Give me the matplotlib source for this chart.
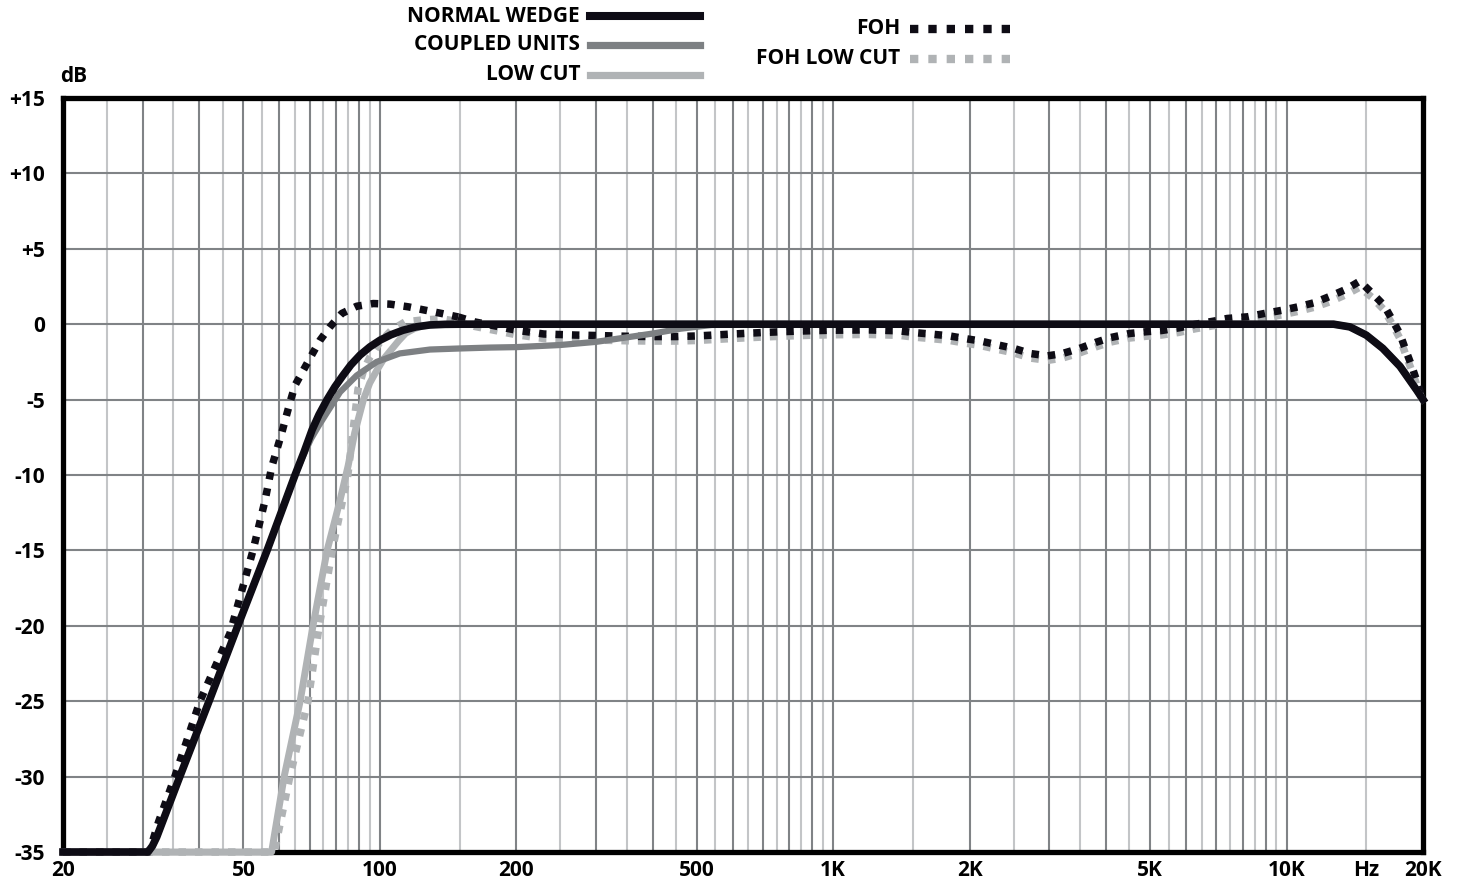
import matplotlib.pyplot as plt
from matplotlib.lines import Line2D

plt.rcParams['font.family'] = ['Open Sans', 'DejaVu Sans']
plt.rcParams['font.weight'] = 'bold'

# --- data (Hz, dB) ---
wedge_f = [20, 30.8, 31.5, 32.2, 36.2, 42, 48.6, 56.4, 65.0, 68.0, 70.9, 73.4,
           76.5, 79.6, 82.9, 86.3, 90.4, 95.1, 100.1, 105.8, 112.5, 120.1, 129,
           139.2, 150, 1000, 10000, 12700, 13800, 15000, 16300, 17800, 19400, 20000]
wedge_db = [-35, -35, -34.6, -34, -30, -25, -20, -15, -10, -8.5, -7.0, -6.0,
            -5.0, -4.15, -3.4, -2.7, -2.05, -1.5, -1.06, -0.7, -0.4, -0.18, -0.05,
            -0.01, 0, 0, 0, 0, -0.18, -0.73, -1.6, -2.8, -4.4, -5.0]

coupled_f = [20, 30.8, 31.5, 32.2, 36.2, 42, 48.6, 56.4, 65.0, 67.8, 70.5, 73.4,
             76.3, 81.7, 88.9, 98.4, 110.6, 129, 150, 175, 200, 250, 300, 400,
             460, 540, 700, 1000, 10000, 12700, 13800, 15000, 16300, 17800, 19400,
             20000]
coupled_db = [-35, -35, -34.6, -34, -30, -25, -20, -15, -10, -8.7, -7.6, -6.7,
              -5.9, -4.5, -3.4, -2.5, -1.94, -1.68, -1.61, -1.55, -1.52, -1.38,
              -1.17, -0.62, -0.3, -0.05, 0, 0, 0, 0, -0.18, -0.73, -1.6, -2.8,
              -4.4, -5.0]

lowcut_f = [20, 57.7, 61.5, 66.7, 71.2, 76.5, 81.5, 85.1, 88, 92, 95, 98.5,
            102, 105.7, 110, 114, 119, 124, 132, 145, 1000, 10000, 12700, 13800,
            15000, 16300, 17800, 19400, 20000]
lowcut_db = [-35, -35, -30, -25, -20, -15, -11.8, -9.4, -7.2, -5, -3.9, -3.05,
             -2.3, -1.73, -1.1, -0.6, -0.3, -0.12, -0.03, 0, 0, 0, 0, -0.18,
             -0.73, -1.6, -2.8, -4.4, -5.0]

foh_f = [20, 31, 32.5, 35.3, 40.1, 46.7, 52.5, 55.8, 57.7, 60.7, 63.4, 65.0,
         67.8, 70.7, 73.8, 77.6, 82.4, 88.9, 96.7, 105.3, 115.6, 125.8, 136.9,
         148.9, 162, 176.5, 200, 230, 270, 300, 350, 400, 450, 500, 600, 700,
         800, 900, 1000, 1200, 1400, 1500, 1650, 1800, 1950, 2100, 2330, 2500,
         2730, 2970, 3200, 3500, 3800, 4100, 4500, 4900, 5300, 5800, 6300,
         6900, 7400, 8200, 8900, 9800, 10600, 11500, 12500, 13500, 14500,
         15400, 16400, 17100, 17800, 18300, 18900, 20000]
foh_db = [-35, -35, -33, -30, -25, -20.5, -15, -11.7, -9.5, -7.25, -5.15, -4.05,
          -3.05, -2.06, -1.06, -0.18, 0.71, 1.19, 1.37, 1.33, 1.15, 0.93, 0.71,
          0.48, 0.15, -0.07, -0.4, -0.65, -0.72, -0.75, -0.8, -0.82, -0.82,
          -0.78, -0.65, -0.55, -0.48, -0.43, -0.4, -0.38, -0.44, -0.55, -0.66,
          -0.77, -0.95, -1.1, -1.4, -1.6, -1.95, -2.1, -1.95, -1.6, -1.2, -0.88,
          -0.62, -0.5, -0.42, -0.24, 0, 0.2, 0.38, 0.49, 0.7, 0.93, 1.15, 1.42,
          1.86, 2.3, 2.85, 2.1, 1.26, 0.31, -0.66, -1.68, -2.8, -5.0]

fohlc_f = [20, 58.5, 63.3, 69.4, 73.5, 78.5, 85, 87.3, 89.5, 92, 95, 100, 106,
           113.6, 124, 136.9, 148.9, 162, 176.5, 200, 230, 270, 300, 350, 400,
           450, 500, 600, 700, 800, 900, 1000, 1200, 1400, 1500, 1650, 1800,
           1950, 2100, 2330, 2500, 2730, 2970, 3200, 3500, 3800, 4100, 4500,
           4900, 5300, 5800, 6300, 6900, 7400, 8200, 8900, 9800, 10600, 11500,
           12500, 13500, 14500, 15400, 16400, 17100, 17800, 18300, 18900, 20000]
fohlc_db = [-35, -35, -30, -25, -20, -15, -10, -7, -4.3, -3.1, -2.2, -1.2, -0.4,
            0.15, 0.28, 0.35, 0.18, -0.15, -0.37, -0.7, -0.95, -1.02, -1.05,
            -1.1, -1.12, -1.12, -1.08, -0.95, -0.85, -0.78, -0.73, -0.7, -0.68,
            -0.74, -0.85, -0.96, -1.07, -1.25, -1.4, -1.7, -1.9, -2.25, -2.4,
            -2.25, -1.9, -1.5, -1.18, -0.92, -0.8, -0.72, -0.54, -0.3, -0.1,
            0.08, 0.19, 0.4, 0.63, 0.85, 1.12, 1.5, 1.95, 2.45, 1.8, 0.96, 0.01,
            -0.96, -1.98, -3.1, -5.2]

xtick_vals = [20, 50, 100, 200, 500, 1000, 2000, 5000, 10000, 15000, 20000]
xtick_labels = ['20', '50', '100', '200', '500', '1K', '2K', '5K', '10K', 'Hz', '20K']
ytick_vals = [15, 10, 5, 0, -5, -10, -15, -20, -25, -30, -35]
ytick_labels = ['+15', '+10', '+5', '0', '-5', '-10', '-15', '-20', '-25', '-30', '-35']

BLACK = '#0e0c15'
DARK = '#7d8083'
LIGHT = '#b0b3b5'
FS = 15

fig = plt.figure(figsize=(14.64, 8.81), dpi=100)
ax = fig.add_axes([0.04303, 0.03292, 0.92896, 0.85585])
ax.set_xscale('log')
ax.set_xlim(20, 20000)
ax.set_ylim(-35, 15)

# grid: dark on integer multiples, light on the half steps
for dec in [10, 100, 1000, 10000]:
    for m in range(1, 10):
        for v, col in [(m * dec, '#808386'), ((m + 0.5) * dec, '#c3c5c7')]:
            if 20 < v < 20000:
                ax.axvline(v, color=col, lw=1.5, zorder=1)
for v in range(-30, 15, 5):
    ax.axhline(v, color='#808386', lw=1.5, zorder=1)

dot = dict(lw=5.4, dashes=(1.0, 1.2), dash_capstyle='butt', solid_capstyle='butt')
k = fohlc_f.index(148.9)
j = foh_f.index(148.9)
ax.plot(fohlc_f[:k + 1], fohlc_db[:k + 1], color=LIGHT, zorder=3, clip_on=False, **dot)
ax.plot(fohlc_f[k:], fohlc_db[k:], color=LIGHT, zorder=3, clip_on=False, **dot)
ax.plot(foh_f[:j + 1], foh_db[:j + 1], color=BLACK, zorder=4, clip_on=False, **dot)
ax.plot(foh_f[j:], foh_db[j:], color=BLACK, zorder=4, clip_on=False, **dot)
ax.plot(lowcut_f, lowcut_db, color=LIGHT, lw=5.0, zorder=5, clip_on=False)
ax.plot(coupled_f, coupled_db, color=DARK, lw=4.5, zorder=6, clip_on=False)
ax.plot(wedge_f, wedge_db, color=BLACK, lw=5.5, zorder=7, clip_on=False)

for s in ax.spines.values():
    s.set_linewidth(3.8)
    s.set_color('black')

ax.set_xticks(xtick_vals, xtick_labels)
ax.minorticks_off()
ax.set_yticks(ytick_vals, ytick_labels)
ax.tick_params(length=0, labelsize=FS)
ax.tick_params(axis='y', pad=13)
ax.tick_params(axis='x', pad=6)

fig.text(60 / 1464, 1 - 77 / 881, 'dB', fontsize=FS, ha='left', va='center')

# legend, drawn by hand in figure pixels
def leg(y, x0, x1, text, **style):
    fig.add_artist(Line2D([x0 / 1464, x1 / 1464], [1 - y / 881] * 2, **style))
    fig.text((x0 - 10) / 1464, 1 - y / 881, text, fontsize=FS,
             ha='right', va='center')

leg(16, 590, 700, 'NORMAL WEDGE', color=BLACK, lw=5.8)
leg(45, 590, 700, 'COUPLED UNITS', color=DARK, lw=5.2)
leg(75, 590, 700, 'LOW CUT', color=LIGHT, lw=5.2)
leg(29, 910, 1020, 'FOH', color=BLACK, lw=6, dashes=(1.0, 1.2), dash_capstyle='butt')
leg(59, 910, 1020, 'FOH LOW CUT', color=LIGHT, lw=6, dashes=(1.0, 1.2), dash_capstyle='butt')

fig.savefig('out.png', dpi=100)
